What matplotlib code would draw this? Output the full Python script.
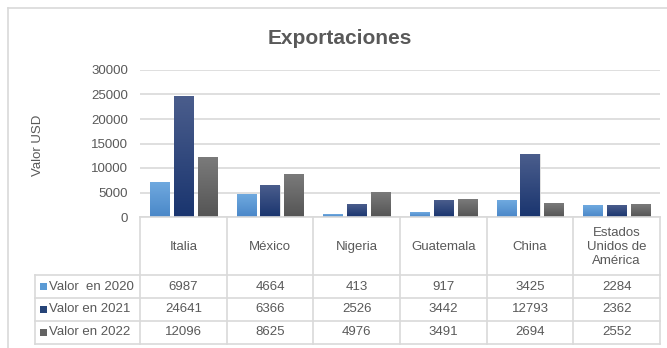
import numpy as np
import matplotlib.pyplot as plt
from matplotlib.colors import LinearSegmentedColormap
from matplotlib.lines import Line2D
from matplotlib.transforms import blended_transform_factory

plt.rcParams['font.family'] = ['Liberation Sans', 'DejaVu Sans']

paises = ["Italia", "México", "Nigeria", "Guatemala", "China", "Estados\nUnidos de\nAmérica"]
series = ["Valor  en 2020", "Valor en 2021", "Valor en 2022"]
v2020 = [6987, 4664, 413, 917, 3425, 2284]
v2021 = [24641, 6366, 2526, 3442, 12793, 2362]
v2022 = [12096, 8625, 4976, 3491, 2694, 2552]
valores = [v2020, v2021, v2022]

# gradiente (arriba, abajo) y color de la marca de leyenda
grad = [("#6fa9df", "#4a87c8"), ("#4a5d8c", "#1a356f"), ("#7a7a7a", "#555555")]
marca = ["#5b9bd5", "#264478", "#636363"]
txt = "#595959"
linea = "#d9d9d9"

W, H = 667, 348
fig = plt.figure(figsize=(W / 100, H / 100), dpi=100)

def fx(x):
    return x / W

def fy(y):
    return 1 - y / H

ax = fig.add_axes([fx(140), fy(217), fx(660) - fx(140), fy(70) - fy(217)])
x = np.arange(len(paises))
ancho = 0.22
offs = [-0.275, 0, 0.275]
for k in range(3):
    cmap = LinearSegmentedColormap.from_list("g%d" % k, [grad[k][1], grad[k][0]])
    barras = ax.bar(x + offs[k], valores[k], ancho, color=grad[k][0], zorder=2)
    for b in barras:
        x0, w, h = b.get_x(), b.get_width(), b.get_height()
        ax.imshow(np.linspace(0, 1, 50).reshape(-1, 1), extent=[x0, x0 + w, 0, h],
                  origin="lower", aspect="auto", cmap=cmap, zorder=3)
        # sombra suave
        ax.add_patch(plt.Rectangle((x0 + 0.012, 0), w, h, color="#000000",
                                   alpha=0.12, zorder=1.5, lw=0))

ax.set_xlim(-0.5, len(paises) - 0.5)
ax.set_ylim(0, 30000)
ax.set_yticks(range(0, 30001, 5000))
ax.set_xticks([])
ax.tick_params(axis="y", length=0, pad=8.5, labelsize=9.5, labelcolor=txt)
ax.grid(axis="y", color=linea, lw=1.2, zorder=0)
for s in ax.spines.values():
    s.set_visible(False)

fig.text(fx(340), fy(38), "Exportaciones", ha="center", va="center",
         fontsize=15, fontweight="bold", color=txt)
fig.text(fx(38), fy(145), "Valor USD", rotation=90, ha="center", va="center",
         fontsize=9.5, color=txt)

# marco exterior
fig.add_artist(Line2D([fx(7.5), fx(667)], [fy(7.5), fy(7.5)], color=linea, lw=1.2))
fig.add_artist(Line2D([fx(7.5), fx(7.5)], [fy(7.5), fy(348)], color=linea, lw=1.2))

# tabla de datos
tr = blended_transform_factory(ax.transData, fig.transFigure)
filas = [275, 298, 321, 343.5]
for yy in [217] + filas:
    x_ini = 140 if yy == 217 else 35
    fig.add_artist(Line2D([fx(x_ini), fx(660)], [fy(yy), fy(yy)], color=linea, lw=1.2))
for i in range(len(paises) + 1):
    fig.add_artist(Line2D([i - 0.5, i - 0.5], [fy(217), fy(343.5)], color=linea,
                          lw=1.2, transform=tr))
fig.add_artist(Line2D([fx(35), fx(35)], [fy(275), fy(343.5)], color=linea, lw=1.2))

for i, p in enumerate(paises):
    fig.text(i, fy(247), p, transform=tr, ha="center", va="center", fontsize=9.5,
             color=txt, linespacing=1.25)
for k in range(3):
    yc = (filas[k] + filas[k + 1]) / 2
    fig.add_artist(plt.Rectangle((fx(39.5), fy(yc + 3.5)), fx(7), 7 / H,
                                 color=marca[k], lw=0))
    fig.text(fx(49), fy(yc), series[k], ha="left", va="center", fontsize=9.5, color=txt)
    for i, v in enumerate(valores[k]):
        fig.text(i, fy(yc), str(v), transform=tr, ha="center", va="center",
                 fontsize=9.5, color=txt)

fig.savefig("out.png", dpi=100)
